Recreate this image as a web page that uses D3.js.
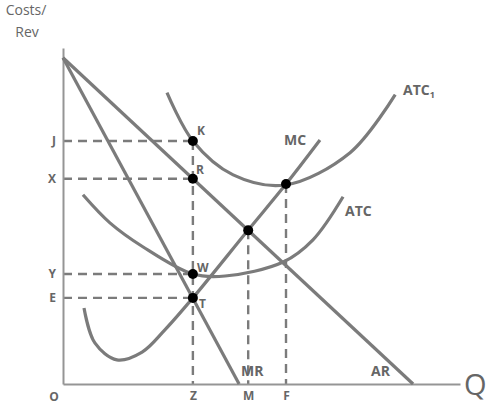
<!DOCTYPE html>
<html><head><meta charset="utf-8">
<script src="https://cdn.jsdelivr.net/npm/d3@7"></script>
<style>
body{margin:0;background:#fff;}
svg{display:block;}
</style></head>
<body>
<svg id="c" width="500" height="414"></svg>
<script>
// ---- data (Q in units, cost/revenue in units) ----
const arCurve  = [[0,10.0],[10.0,0]];
const mrCurve  = [[0,10.0],[5.03,0]];
const mcCurve  = [[0.60,2.33],[0.91,1.26],[1.54,0.74],[2.26,0.98],[2.91,1.66],[3.71,2.64],[5.29,4.72],[6.37,6.13],[7.34,7.48]];
const atc1Curve= [[2.97,8.93],[3.71,7.45],[4.86,6.41],[6.34,6.10],[8.20,7.09],[9.49,8.87]];
const atcCurve = [[0.57,5.80],[1.34,4.94],[2.29,4.20],[3.71,3.37],[4.63,3.31],[6.29,3.74],[7.14,4.42],[8.00,5.74]];
const yTickVals = [7.45,6.29,3.37,2.64];
const yTickLabels = ["J","X","Y","E"];
const xTickVals = [3.71,5.29,6.37];
const xTickLabels = ["Z","M","F"];
const dotPoints = [
  {name:"K",q:3.71,p:7.45},{name:"R",q:3.71,p:6.29},{name:"W",q:3.71,p:3.37},{name:"T",q:3.71,p:2.64},
  {name:"",q:5.29,p:4.71},{name:"",q:6.37,p:6.13}
];
const hDashes = [[3.71,7.45],[3.71,6.29],[3.71,3.37],[3.71,2.64]];
const vDashes = [[3.71,7.45],[5.29,4.71],[6.37,6.13]];

const svg = d3.select("#c");
const x = d3.scaleLinear().domain([0,11.34]).range([63,460]);
const y = d3.scaleLinear().domain([0,10.3]).range([384,48]);

const grey="#7b7b7b", lab="#666";
const font="'Open Sans', 'DejaVu Sans', sans-serif";

// dashed guides
const dash = svg.append("g").attr("stroke",grey).attr("stroke-width",2.4).attr("stroke-dasharray","9,6").attr("fill","none");
hDashes.forEach(d=>dash.append("line").attr("x1",x(0)).attr("x2",x(d[0])).attr("y1",y(d[1])).attr("y2",y(d[1])));
vDashes.forEach(d=>dash.append("line").attr("x1",x(d[0])).attr("x2",x(d[0])).attr("y1",y(d[1])).attr("y2",y(0)));

// axes
const yAxis = d3.axisLeft(y).tickValues(yTickVals).tickFormat((d,i)=>yTickLabels[i]).tickSize(0).tickPadding(7);
const xAxis = d3.axisBottom(x).tickValues(xTickVals).tickFormat((d,i)=>xTickLabels[i]).tickSize(0).tickPadding(7);
const ya = svg.append("g").attr("transform",`translate(${x(0)},0)`).call(yAxis);
const xa = svg.append("g").attr("transform",`translate(0,${y(0)})`).call(xAxis);
[ya,xa].forEach(a=>{
  a.select(".domain").attr("stroke","#959595").attr("stroke-width",2);
  a.selectAll("text").attr("fill",lab).attr("font-family",font).attr("font-weight","bold").attr("font-size",12);
});

// curves
const line = d3.line().x(d=>x(d[0])).y(d=>y(d[1])).curve(d3.curveCatmullRom.alpha(0.5));
const straight = d3.line().x(d=>x(d[0])).y(d=>y(d[1]));
const cg = svg.append("g").attr("fill","none").attr("stroke",grey).attr("stroke-width",3.2).attr("stroke-linecap","butt");
cg.append("path").attr("d",straight(arCurve));
cg.append("path").attr("d",straight(mrCurve));
cg.append("path").attr("d",line(mcCurve));
cg.append("path").attr("d",line(atc1Curve));
cg.append("path").attr("d",line(atcCurve));

// dots
svg.append("g").selectAll("circle").data(dotPoints).join("circle")
  .attr("cx",d=>x(d.q)).attr("cy",d=>y(d.p)).attr("r",5).attr("fill","#000");

// point labels
const pl = svg.append("g").attr("fill",lab).attr("font-family",font).attr("font-weight","bold").attr("font-size",12);
const offs = {K:[4,-10],R:[3,-9],W:[4,-6],T:[6,6]};
dotPoints.filter(d=>d.name).forEach(d=>{
  pl.append("text").attr("x",x(d.q)+offs[d.name][0]).attr("y",y(d.p)+offs[d.name][1]).attr("dy","0.35em").text(d.name);
});

// curve labels
const cl = svg.append("g").attr("fill",lab).attr("font-family",font).attr("font-weight","bold").attr("font-size",14);
cl.append("text").attr("x",284).attr("y",145).text("MC");
const a1 = cl.append("text").attr("x",403).attr("y",95).text("ATC");
a1.append("tspan").attr("font-size",9).attr("dy",3).text("1");
cl.append("text").attr("x",345).attr("y",216).text("ATC");
cl.append("text").attr("x",241).attr("y",376).text("MR");
cl.append("text").attr("x",371).attr("y",376).text("AR");

// axis titles
const at = svg.append("g").attr("fill",lab).attr("font-family",font);
at.append("text").attr("x",26).attr("y",15).attr("text-anchor","middle").attr("font-size",14).text("Costs/");
at.append("text").attr("x",27).attr("y",37).attr("text-anchor","middle").attr("font-size",14).text("Rev");
at.append("text").attr("x",464).attr("y",395).attr("font-size",29).text("Q");
at.append("text").attr("x",54).attr("y",401).attr("text-anchor","middle").attr("font-size",12).attr("font-weight","bold").text("O");
</script>
</body></html>
